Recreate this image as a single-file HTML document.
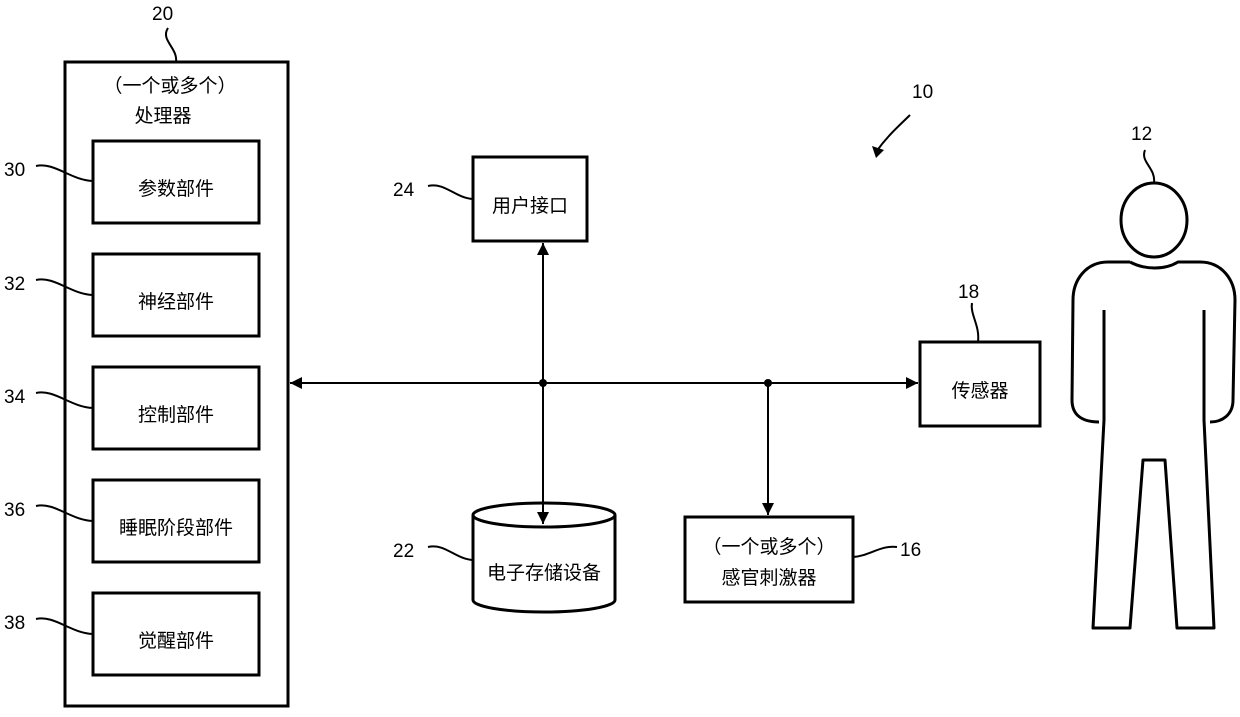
<!DOCTYPE html>
<html><head><meta charset="utf-8"><style>
body{margin:0;background:#fff}
svg text{font-family:"Liberation Sans","Noto Sans CJK SC",sans-serif;fill:#000}
</style></head><body>
<svg width="1240" height="712" viewBox="0 0 1240 712" xmlns="http://www.w3.org/2000/svg">
<defs><marker id="a" viewBox="0 0 10 10" refX="10" refY="5" markerWidth="14" markerHeight="12" markerUnits="userSpaceOnUse" orient="auto-start-reverse"><path d="M0,0 L10,5 L0,10 z" fill="#000"/></marker></defs>
<g fill="none" stroke="#000" stroke-width="3">
<rect x="65" y="62" width="223" height="644"/>
<rect x="93" y="141" width="166" height="82"/>
<rect x="93" y="254" width="166" height="82"/>
<rect x="93" y="367" width="166" height="82"/>
<rect x="93" y="480" width="166" height="82"/>
<rect x="93" y="593" width="166" height="82"/>
<rect x="473" y="157" width="114" height="84"/>
<rect x="920" y="342" width="120" height="84"/>
<rect x="685" y="517" width="168" height="85"/>
<path d="M473,515 L473,600 A71,12 0 0 0 615,600 L615,515"/>
<ellipse cx="544" cy="515" rx="71" ry="12"/>
</g>
<g fill="none" stroke="#000" stroke-width="2">
<line x1="290" y1="383" x2="918" y2="383" marker-start="url(#a)" marker-end="url(#a)"/>
<line x1="543" y1="243" x2="543" y2="524" marker-start="url(#a)" marker-end="url(#a)"/>
<line x1="768" y1="383" x2="768" y2="515" marker-end="url(#a)"/>
<path d="M168,28 C160,40 178,48 176,62"/>
<path d="M36,166 C55,162 70,180 93,181"/>
<path d="M36,280 C55,276 70,294 93,295"/>
<path d="M36,393 C55,389 70,407 93,408"/>
<path d="M36,506 C55,502 70,520 93,521"/>
<path d="M36,619 C55,615 70,633 93,634"/>
<path d="M428,186 C445,182 455,198 473,199"/>
<path d="M428,547 C445,543 455,559 473,560"/>
<path d="M853,557 C870,556 880,545 897,547"/>
<path d="M972,303 C970,315 980,325 978,342"/>
<path d="M1145,150 C1140,162 1156,168 1154,183"/>
<path d="M910,115 C900,125 888,135 876,152"/>
</g>
<path d="M876,158 L872,146 L884,150 z" fill="#000"/>
<circle cx="543" cy="383" r="4" fill="#000"/>
<circle cx="768" cy="383" r="4" fill="#000"/>
<g fill="none" stroke="#000" stroke-width="3" stroke-linejoin="round">
<ellipse cx="1154" cy="220" rx="33" ry="37"/>
<path d="M1130,262 C1145,270 1165,270 1178,262 L1200,262 C1222,262 1235,280 1235,300 L1233,400 C1233,415 1222,422 1210,422"/>
<path d="M1130,262 L1108,262 C1086,262 1073,280 1073,300 L1072,400 C1072,415 1082,422 1099,422"/>
<path d="M1104,310 L1104,420 L1093,628 L1130,628 L1143,460 L1165,460 L1177,628 L1214,628 L1204,420 L1204,310"/>
</g>
<g font-size="19">
<text x="152" y="20">20</text>
<text x="4" y="176">30</text><text x="4" y="290">32</text><text x="4" y="403">34</text><text x="4" y="516">36</text><text x="4" y="629">38</text>
<text x="393" y="196">24</text><text x="393" y="557">22</text><text x="900" y="556">16</text>
<text x="958" y="298">18</text><text x="1131" y="140">12</text><text x="912" y="98">10</text>
</g>
<g font-size="19" text-anchor="middle">
<text x="170" y="92">（一个或多个）</text>
<text x="163" y="122">处理器</text>
<text x="176" y="195">参数部件</text>
<text x="176" y="308">神经部件</text>
<text x="176" y="421">控制部件</text>
<text x="176" y="534">睡眠阶段部件</text>
<text x="176" y="647">觉醒部件</text>
<text x="530" y="212">用户接口</text>
<text x="980" y="397">传感器</text>
<text x="769" y="553">（一个或多个）</text>
<text x="769" y="584">感官刺激器</text>
<text x="544" y="579">电子存储设备</text>
</g>
</svg>
</body></html>
